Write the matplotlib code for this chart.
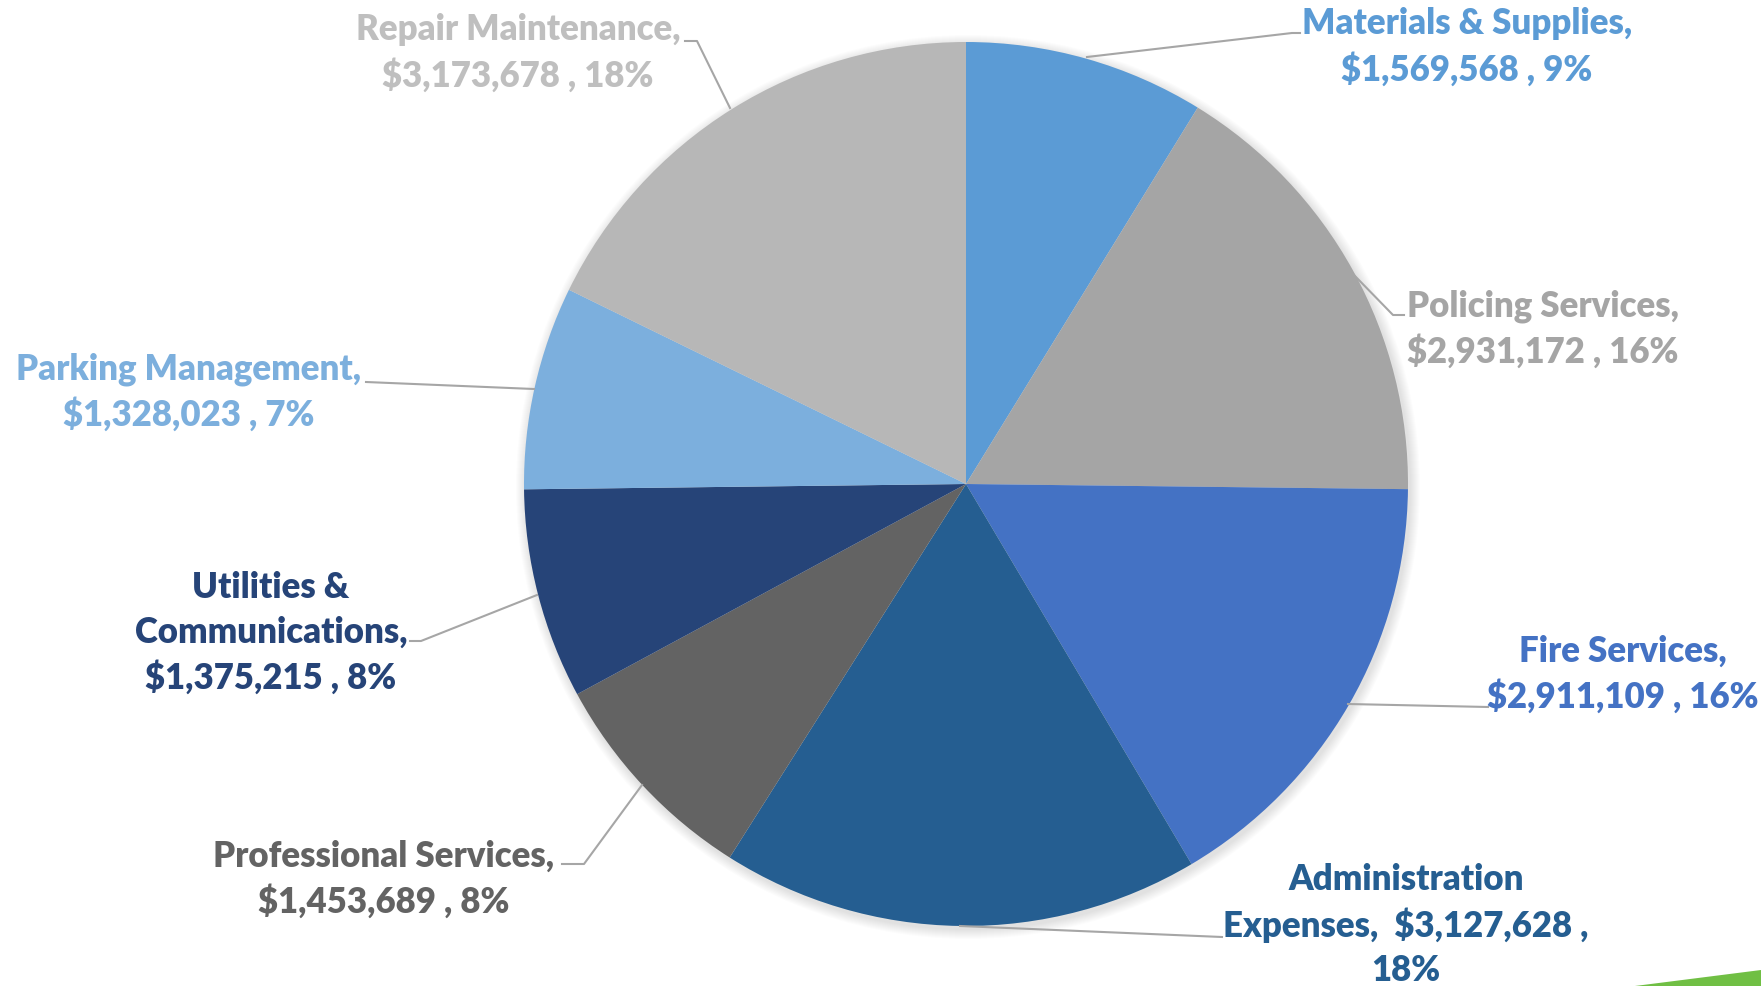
"""
Expense breakdown pie chart
"""

import matplotlib.pyplot as plt
from matplotlib.patches import Circle, Polygon

categories = ['Materials & Supplies', 'Policing Services', 'Fire Services',
              'Administration Expenses', 'Professional Services',
              'Utilities & Communications', 'Parking Management', 'Repair Maintenance']
amounts = [1569568, 2931172, 2911109, 3127628, 1453689, 1375215, 1328023, 3173678]
percent_labels = ['9%', '16%', '16%', '18%', '8%', '8%', '7%', '18%']
label_texts = [
    'Materials & Supplies,\n$1,569,568 , 9%',
    'Policing Services,\n$2,931,172 , 16%',
    'Fire Services,\n$2,911,109 , 16%',
    'Administration\nExpenses,  $3,127,628 ,\n18%',
    'Professional Services,\n$1,453,689 , 8%',
    'Utilities &\nCommunications,\n$1,375,215 , 8%',
    'Parking Management,\n$1,328,023 , 7%',
    'Repair Maintenance,\n$3,173,678 , 18%',
]
colors = ['#5B9BD5', '#A5A5A5', '#4472C4', '#255E91',
          '#636363', '#264478', '#7CAFDD', '#B7B7B7']
text_colors = ['#5B9BD5', '#A5A5A5', '#4472C4', '#255E91',
               '#636363', '#264478', '#7CAFDD', '#BFBFBF']

W, H = 1761, 987
fig = plt.figure(figsize=(W / 100, H / 100), dpi=100)
ax = fig.add_axes([0, 0, 1, 1])

cx, cy, r = 966, H - 485, 442

# soft shadow under the pie
for i in range(10):
    ax.add_patch(Circle((cx + 2, cy - 3), r + 10 - i, color='black',
                        alpha=0.012, lw=0, zorder=0))

ax.pie(amounts, startangle=90, counterclock=False, center=(cx, cy),
       radius=r, colors=colors, wedgeprops=dict(edgecolor='none'),
       frame=True)
ax.set_xlim(0, W)
ax.set_ylim(0, H)
ax.axis('off')

# label positions (image px, y from top) and leader lines
label_pos = [(1467, 47), (1543, 329), (1623, 674), (1406, 925),
             (384, 879), (271, 633), (189, 392), (518, 53)]
leaders = [
    [(1087, 58), (1292, 34), (1300, 34)],
    [(1353, 275), (1393, 316), (1404, 316)],
    [(1348, 705), (1488, 708)],
    [(960, 927), (1222, 938)],
    [(642, 786), (584, 865), (562, 865)],
    [(537, 596), (421, 642), (410, 642)],
    [(534, 390), (366, 383)],
    [(730, 109), (697, 42), (685, 42)],
]

for txt, col, (x, y), pts in zip(label_texts, text_colors, label_pos, leaders):
    ax.text(x, H - y, txt, ha='center', va='center', multialignment='center',
            fontsize=25, fontweight='heavy', family='Lato', color=col,
            linespacing=1.4)
    xs = [p[0] for p in pts]
    ys = [H - p[1] for p in pts]
    ax.plot(xs, ys, color='#A6A6A6', lw=1.5, zorder=3)

# green corner accent
ax.add_patch(Polygon([(1635, 0), (W, 16), (W, 0)], closed=True,
                     color='#70BF44', lw=0))

fig.savefig('out.png', dpi=100)
